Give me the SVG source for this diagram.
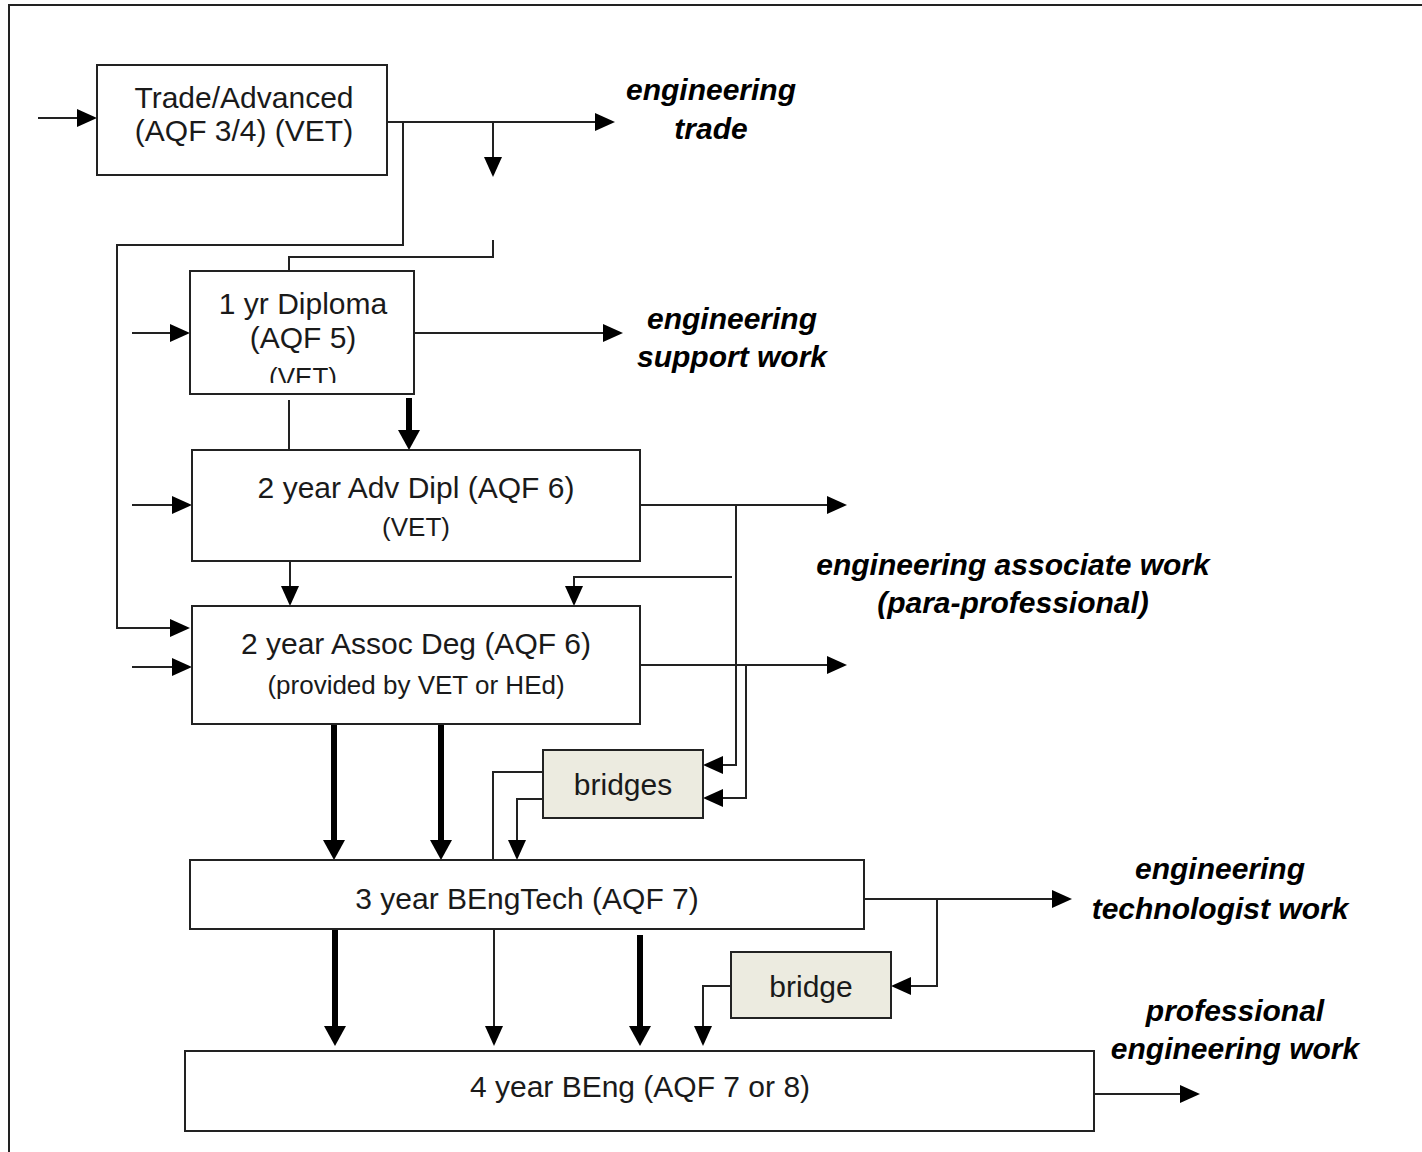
<svg xmlns="http://www.w3.org/2000/svg" width="1422" height="1152" viewBox="0 0 1422 1152">
<style>
.box{fill:#fff;stroke:#222;stroke-width:2}
.br{fill:#ecebe0;stroke:#222;stroke-width:2}
.t{font-family:"Liberation Sans",Arial,sans-serif;font-size:30px;fill:#1a1a1a;text-anchor:middle}
.s{font-size:26px}
.lab{font-family:"Liberation Sans",Arial,sans-serif;font-size:30px;font-weight:bold;font-style:italic;fill:#000;text-anchor:middle}
.c{fill:none;stroke:#222;stroke-width:2}
.k{fill:none;stroke:#000;stroke-width:6}
</style>
<defs>
<marker id="a" markerWidth="20" markerHeight="18" refX="0" refY="9" orient="auto" markerUnits="userSpaceOnUse"><path d="M0,0 L20,9 L0,18 Z" fill="#000"/></marker>
<marker id="ak" markerWidth="20" markerHeight="22" refX="0" refY="11" orient="auto" markerUnits="userSpaceOnUse"><path d="M0,0 L20,11 L0,22 Z" fill="#000"/></marker>
<clipPath id="dipclip"><rect x="190" y="271" width="224" height="112"/></clipPath>
</defs>
<rect width="1422" height="1152" fill="#fff"/>
<path d="M9,1152 V5 H1422" fill="none" stroke="#222" stroke-width="2"/>

<g id="connectors">
<path class="c" d="M38,118 H77" marker-end="url(#a)"/>
<path class="c" d="M387,122 H595" marker-end="url(#a)"/>
<path class="c" d="M403,122 V245 H117 V628 H170" marker-end="url(#a)"/>
<path class="c" d="M493,122 V157" marker-end="url(#a)"/>
<path class="c" d="M493,240 V257 H289 V271"/>
<path class="c" d="M132,333 H170" marker-end="url(#a)"/>
<path class="c" d="M414,333 H603" marker-end="url(#a)"/>
<path class="c" d="M289,400 V450"/>
<path class="k" d="M409,398 V430" marker-end="url(#ak)"/>
<path class="c" d="M132,505 H172" marker-end="url(#a)"/>
<path class="c" d="M640,505 H827" marker-end="url(#a)"/>
<path class="c" d="M736,505 V765 H723" marker-end="url(#a)"/>
<path class="c" d="M290,561 V586" marker-end="url(#a)"/>
<path class="c" d="M732,577 H574 V586" marker-end="url(#a)"/>
<path class="c" d="M132,667 H172" marker-end="url(#a)"/>
<path class="c" d="M640,665 H827" marker-end="url(#a)"/>
<path class="c" d="M746,665 V798 H723" marker-end="url(#a)"/>
<path class="k" d="M334,725 V840" marker-end="url(#ak)"/>
<path class="k" d="M441,725 V840" marker-end="url(#ak)"/>
<path class="c" d="M543,772 H493 V860"/>
<path class="c" d="M543,799 H517 V840" marker-end="url(#a)"/>
<path class="c" d="M864,899 H1052" marker-end="url(#a)"/>
<path class="c" d="M937,899 V986 H911" marker-end="url(#a)"/>
<path class="c" d="M731,986 H703 V1026" marker-end="url(#a)"/>
<path class="k" d="M335,929 V1026" marker-end="url(#ak)"/>
<path class="c" d="M494,929 V1026" marker-end="url(#a)"/>
<path class="k" d="M640,935 V1026" marker-end="url(#ak)"/>
<path class="c" d="M1094,1094 H1180" marker-end="url(#a)"/>
</g>

<g id="trade">
<rect class="box" x="97" y="65" width="290" height="110"/>
<text class="t" x="244" y="108">Trade/Advanced</text>
<text class="t" x="244" y="141">(AQF 3/4) (VET)</text>
</g>
<g id="diploma">
<rect class="box" x="190" y="271" width="224" height="123"/>
<text class="t" x="303" y="314">1 yr Diploma</text>
<text class="t" x="303" y="348">(AQF 5)</text>
<text class="t s" x="303" y="386" clip-path="url(#dipclip)">(VET)</text>
</g>
<g id="advdipl">
<rect class="box" x="192" y="450" width="448" height="111"/>
<text class="t" x="416" y="498">2 year Adv Dipl (AQF 6)</text>
<text class="t s" x="416" y="536">(VET)</text>
</g>
<g id="assocdeg">
<rect class="box" x="192" y="606" width="448" height="118"/>
<text class="t" x="416" y="654">2 year Assoc Deg (AQF 6)</text>
<text class="t s" x="416" y="694">(provided by VET or HEd)</text>
</g>
<g id="bridges">
<rect class="br" x="543" y="750" width="160" height="68"/>
<text class="t" x="623" y="795">bridges</text>
</g>
<g id="bengtech">
<rect class="box" x="190" y="860" width="674" height="69"/>
<text class="t" x="527" y="909">3 year BEngTech (AQF 7)</text>
</g>
<g id="bridge">
<rect class="br" x="731" y="952" width="160" height="66"/>
<text class="t" x="811" y="997">bridge</text>
</g>
<g id="beng">
<rect class="box" x="185" y="1051" width="909" height="80"/>
<text class="t" x="640" y="1097">4 year BEng (AQF 7 or 8)</text>
</g>

<g id="out-trade">
<text class="lab" x="711" y="100">engineering</text>
<text class="lab" x="711" y="139">trade</text>
</g>
<g id="out-support">
<text class="lab" x="732" y="329">engineering</text>
<text class="lab" x="732" y="367">support work</text>
</g>
<g id="out-associate">
<text class="lab" x="1013" y="575">engineering associate work</text>
<text class="lab" x="1013" y="613">(para-professional)</text>
</g>
<g id="out-technologist">
<text class="lab" x="1220" y="879">engineering</text>
<text class="lab" x="1220" y="919">technologist work</text>
</g>
<g id="out-professional">
<text class="lab" x="1235" y="1021">professional</text>
<text class="lab" x="1235" y="1059">engineering work</text>
</g>
</svg>
